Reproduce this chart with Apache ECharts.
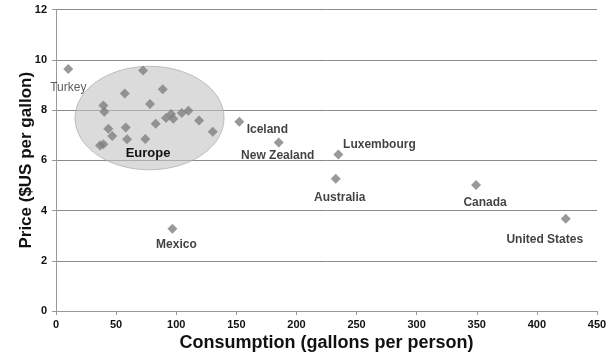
<!DOCTYPE html>
<html>
<head>
<meta charset="utf-8">
<script src="https://cdn.jsdelivr.net/npm/echarts@6/dist/echarts.min.js"></script>
<style>
  html, body { margin: 0; padding: 0; background: #fff; }
  #chart { width: 613px; height: 358px; }
</style>
</head>
<body>
<div id="chart"></div>
<script>
// European countries (unlabelled, grouped by the shaded region)
const europeConsumption = [72.4, 88.8, 57.2, 39.4, 78.2, 40.2, 110.1, 104.6, 95.7, 91.5, 97.6, 119, 82.9, 43.5, 58, 130.4, 46.8, 59.1, 74.3, 36.6, 39.4];
const europePrice = [9.57, 8.83, 8.66, 8.18, 8.24, 7.93, 7.97, 7.88, 7.84, 7.68, 7.65, 7.58, 7.45, 7.25, 7.30, 7.13, 6.97, 6.84, 6.85, 6.59, 6.64];

// Individually labelled countries
const countryNames = ['Turkey', 'Iceland', 'New Zealand', 'Luxembourg', 'Australia', 'Canada', 'United States', 'Mexico'];
const countryConsumption = [10.2, 152.5, 185.3, 234.9, 232.7, 349.4, 424, 96.8];
const countryPrice = [9.63, 7.53, 6.71, 6.23, 5.26, 5.01, 3.67, 3.27];
// label offset (px) from each marker
const labelOffsets = [[0, 19], [28, 8], [-1, 13], [41, -10], [4, 19], [9, 18], [-21, 21], [4, 16]];

// Shaded "Europe" region: centre and radii in data units
const regionName = 'Europe';
const regionCentre = [77.8, 7.68];
const regionRadius = [62, 2.06];

const xTicks = { min: 0, max: 450, interval: 50 };
const yTicks = { min: 0, max: 12, interval: 2 };

const FONT = 'Arial, "Liberation Sans", sans-serif';
const MARK = '#7f7f7f';

const chart = echarts.init(document.getElementById('chart'), null, { renderer: 'canvas' });

const europeData = europeConsumption.map((x, i) => [x, europePrice[i]]);
const countryData = countryNames.map((n, i) => ({
  name: n,
  value: [countryConsumption[i], countryPrice[i]],
  label: {
    show: true,
    position: 'inside',
    offset: labelOffsets[i],
    formatter: n,
    fontFamily: FONT,
    fontSize: 12,
    fontWeight: n === 'Turkey' ? 'normal' : 'bold',
    color: n === 'Turkey' ? '#333' : '#111'
  }
}));

chart.setOption({
  animation: false,
  backgroundColor: '#fff',
  grid: { left: 56, right: 16, top: 9.5, bottom: 47, containLabel: false, outerBoundsMode: 'none' },
  xAxis: {
    type: 'value',
    min: xTicks.min, max: xTicks.max, interval: xTicks.interval,
    name: 'Consumption (gallons per person)',
    nameLocation: 'middle',
    nameGap: 23,
    nameMoveOverlap: false,
    nameTextStyle: { fontFamily: FONT, fontSize: 18, fontWeight: 'bold', color: '#111' },
    axisLine: { show: true, lineStyle: { color: '#999', width: 1 } },
    axisTick: { show: true, length: 4, inside: false, lineStyle: { color: '#999' } },
    axisLabel: { fontFamily: FONT, fontSize: 11, fontWeight: 'bold', color: '#111', margin: 8 },
    splitLine: { show: false }
  },
  yAxis: {
    type: 'value',
    min: yTicks.min, max: yTicks.max, interval: yTicks.interval,
    name: 'Price ($US per gallon)',
    nameLocation: 'middle',
    nameGap: 21,
    nameMoveOverlap: false,
    nameTextStyle: { fontFamily: FONT, fontSize: 17, fontWeight: 'bold', color: '#111' },
    axisLine: { show: true, lineStyle: { color: '#999', width: 1 } },
    axisTick: { show: true, length: 4, lineStyle: { color: '#999' } },
    axisLabel: { fontFamily: FONT, fontSize: 11, fontWeight: 'bold', color: '#111', margin: 9 },
    splitLine: { show: true, lineStyle: { color: '#8a8a8a', width: 1 } }
  },
  series: [
    {
      type: 'custom',
      name: regionName,
      z: 1,
      clip: false,
      data: [[regionCentre[0], regionCentre[1], regionRadius[0], regionRadius[1]]],
      renderItem: function (params, api) {
        const c = api.coord([api.value(0), api.value(1)]);
        const edge = api.coord([api.value(0) + api.value(2), api.value(1) + api.value(3)]);
        const rx = Math.abs(edge[0] - c[0]);
        const ry = Math.abs(edge[1] - c[1]);
        return {
          type: 'group',
          children: [
            {
              type: 'ellipse',
              shape: { cx: c[0], cy: c[1], rx: rx, ry: ry },
              style: { fill: 'rgba(195,195,195,0.6)', stroke: 'rgba(170,170,170,0.7)', lineWidth: 1 }
            },
            {
              type: 'text',
              x: c[0] - 1.5,
              y: c[1] + 35,
              style: {
                text: regionName,
                fontFamily: FONT, fontSize: 13, fontWeight: 'bold',
                fill: '#111', align: 'center', verticalAlign: 'middle'
              }
            }
          ]
        };
      }
    },
    {
      type: 'scatter',
      name: 'Europe countries',
      z: 3,
      symbol: 'diamond',
      symbolSize: 10,
      itemStyle: { color: MARK },
      data: europeData
    },
    {
      type: 'scatter',
      name: 'Countries',
      z: 3,
      symbol: 'diamond',
      symbolSize: 10,
      itemStyle: { color: MARK },
      data: countryData
    }
  ]
});
</script>
</body>
</html>
